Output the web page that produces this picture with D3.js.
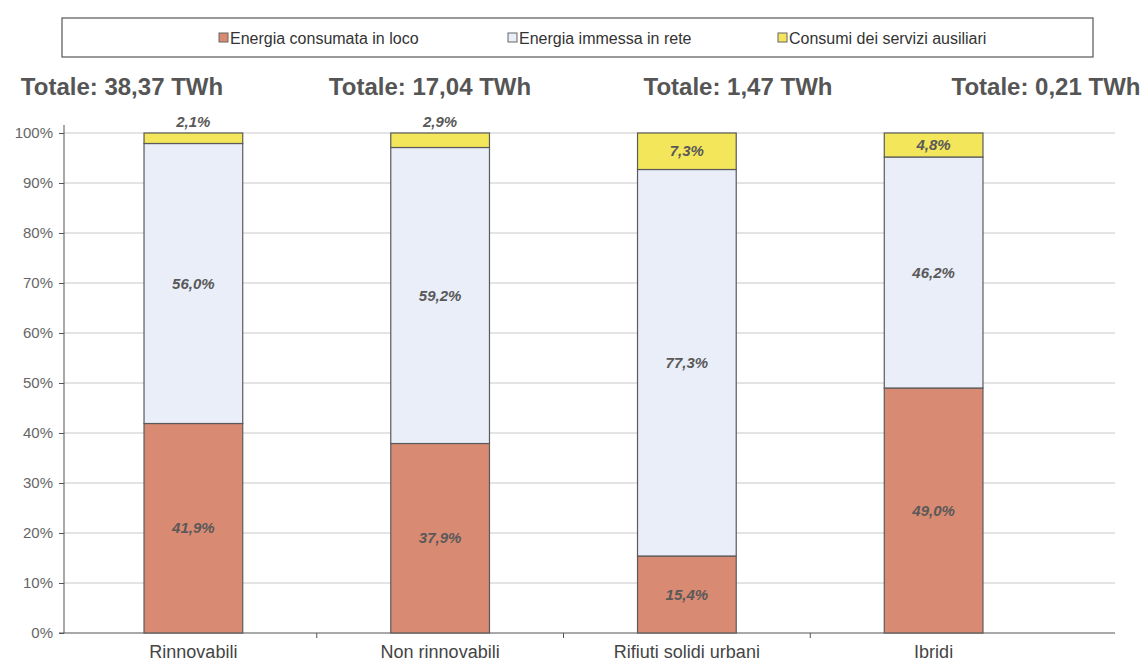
<!DOCTYPE html>
<html><head><meta charset="utf-8">
<script src="https://cdn.jsdelivr.net/npm/d3@7"></script>
<style>body{margin:0;background:#fff;font-family:"Liberation Sans",Arial,sans-serif;}</style>
</head><body><svg id="c" width="1144" height="666"></svg>
<script>
const categories = ["Rinnovabili", "Non rinnovabili", "Rifiuti solidi urbani", "Ibridi"];
const totals = ["Totale: 38,37 TWh", "Totale: 17,04 TWh", "Totale: 1,47 TWh", "Totale: 0,21 TWh"];
const seriesNames = ["Energia consumata in loco", "Energia immessa in rete", "Consumi dei servizi ausiliari"];
const consumata = [41.9, 37.9, 15.4, 49.0];
const immessa = [56.0, 59.2, 77.3, 46.2];
const ausiliari = [2.1, 2.9, 7.3, 4.8];
const yTicks = [0, 10, 20, 30, 40, 50, 60, 70, 80, 90, 100];
const colors = ["#d98a72", "#e9eef8", "#f3e65a"];

const svg = d3.select("#c");
const rows = categories.map((c, i) => ({cat: c, s0: consumata[i], s1: immessa[i], s2: ausiliari[i]}));
const stack = d3.stack().keys(["s0", "s1", "s2"])(rows);

const x = d3.scaleBand().domain(categories).range([70, 1057]).paddingInner(0.6).paddingOuter(0.3);
const y = d3.scaleLinear().domain([0, 100]).range([633, 133]);
const gridRight = 1115;

// gridlines
svg.append("g").selectAll("line").data(yTicks.filter(d => d > 0)).join("line")
  .attr("x1", 64).attr("x2", gridRight).attr("y1", d => y(d)).attr("y2", d => y(d))
  .attr("stroke", "#c8c8c8").attr("stroke-width", 1);

// y axis
const ya = svg.append("g").attr("transform", "translate(64,0)")
  .call(d3.axisLeft(y).tickValues(yTicks).tickFormat(d => d + "%").tickSize(5));
ya.select(".domain").attr("stroke", "#555").attr("d", `M-5,${y(0)}H0V${y(100)-8}`);
ya.selectAll(".tick line").attr("stroke", "#555");
ya.selectAll("text").attr("font-size", 15).attr("fill", "#666").attr("x", -11)
  .attr("font-family", "Liberation Sans, Arial, sans-serif");

// x axis
const step = x.step();
const bounds = categories.map(c => x(c) - (step - x.bandwidth()) / 2).slice(1);
svg.append("line").attr("x1", 64).attr("x2", gridRight).attr("y1", y(0)).attr("y2", y(0))
  .attr("stroke", "#555").attr("stroke-width", 1.2);
svg.append("g").selectAll("line").data(bounds).join("line")
  .attr("x1", d => d).attr("x2", d => d).attr("y1", y(0)).attr("y2", y(0) + 5)
  .attr("stroke", "#555");
svg.append("g").selectAll("text").data(categories).join("text")
  .attr("x", d => x(d) + x.bandwidth() / 2).attr("y", 658)
  .attr("text-anchor", "middle").attr("font-size", 18).attr("fill", "#444").text(d => d);

// bars
stack.forEach((layer, k) => {
  svg.append("g").selectAll("rect").data(layer).join("rect")
    .attr("x", d => x(d.data.cat)).attr("width", x.bandwidth())
    .attr("y", d => y(d[1])).attr("height", d => y(d[0]) - y(d[1]))
    .attr("fill", colors[k]).attr("stroke", "#5a5a5a").attr("stroke-width", 1.2);
});

// value labels
stack.forEach((layer, k) => {
  svg.append("g").selectAll("text").data(layer).join("text")
    .attr("x", d => x(d.data.cat) + x.bandwidth() / 2)
    .attr("y", d => {
      const v = d[1] - d[0];
      if (k === 2 && v < 4) return y(d[1]) - 6;
      return y((d[0] + d[1]) / 2) + 5;
    })
    .attr("text-anchor", "middle").attr("font-size", 15).attr("font-style", "italic")
    .attr("font-weight", "bold").attr("fill", "#595959")
    .text(d => (d[1] - d[0]).toFixed(1).replace(".", ",") + "%");
});

// totals
const tx = d3.scalePoint().domain(totals).range([122, 1046]);
svg.append("g").selectAll("text").data(totals).join("text")
  .attr("x", d => tx(d)).attr("y", 95).attr("text-anchor", "middle")
  .attr("font-size", 24).attr("font-weight", "bold").attr("fill", "#555").text(d => d);

// legend
svg.append("rect").attr("x", 62).attr("y", 18).attr("width", 1031).attr("height", 39)
  .attr("fill", "#fff").attr("stroke", "#555").attr("stroke-width", 1.2);
const lx = d3.scaleOrdinal().domain(seriesNames).range([219, 508, 778]);
const lg = svg.append("g").selectAll("g").data(seriesNames).join("g")
  .attr("transform", d => `translate(${lx(d)},38)`);
lg.append("rect").attr("x", 0).attr("y", -5).attr("width", 9).attr("height", 9)
  .attr("fill", (d, i) => colors[i]).attr("stroke", "#666");
lg.append("text").attr("x", 11).attr("y", 6).attr("font-size", 16).attr("fill", "#333").text(d => d);
</script></body></html>
